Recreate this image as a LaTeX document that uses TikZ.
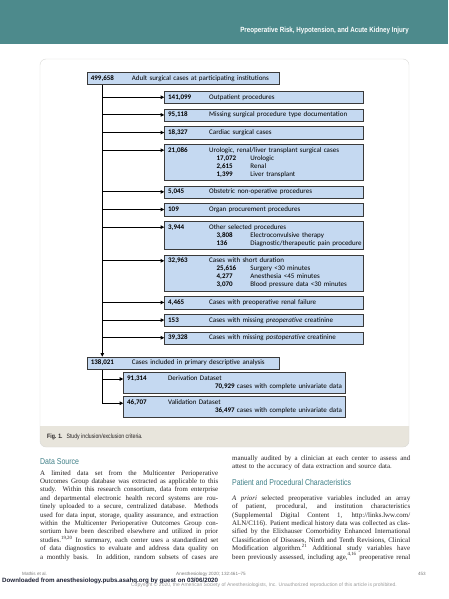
\documentclass[tikz,border=0pt]{standalone}
\usepackage{fontspec}
\setmainfont{Liberation Serif}
\newfontfamily\boxfont{Carlito}
\newfontfamily\condfont[FakeStretch=0.82]{Liberation Sans}
\newfontfamily\headfont[FakeStretch=0.83]{Liberation Sans}
\newfontfamily\footfont{Liberation Sans}
\usetikzlibrary{arrows.meta,positioning}
\definecolor{headTeal}{HTML}{4D8A8C}
\definecolor{secTeal}{HTML}{3F7F87}
\definecolor{boxBlue}{HTML}{C5D9F1}
\definecolor{boxLine}{HTML}{3A3A3A}
\definecolor{capGray}{HTML}{E8E5DC}
\definecolor{panelLine}{HTML}{D9D9D6}
\definecolor{bodyInk}{HTML}{231F20}
\definecolor{footGray}{HTML}{7A7A7A}
\definecolor{copyGray}{HTML}{9A9A9A}
\definecolor{dlNavy}{HTML}{1E2235}
\newlength\colw
\setlength\colw{178pt}
\newcommand\jl[1]{\leavevmode\hbox to\colw{\spaceskip=0pt\xspaceskip=0pt\relax #1}}
\newcommand\boxrow[2]{\strut\mbox{\makebox[41pt][l]{\bfseries #1}#2}}
\newcommand\subrow[2]{\\\strut\mbox{\hspace{48.5pt}\makebox[33.7pt][l]{\bfseries #1}#2}}

\begin{document}
\begin{tikzpicture}[x=1pt,y=-1pt,
  node distance=4.4pt,
  excl/.style={draw=boxLine,fill=boxBlue,line width=0.75pt,inner xsep=3.5pt,inner ysep=2.25pt,
               text width=191.4pt,align=left,minimum height=12.5pt,
               font=\boxfont\fontsize{7}{8}\selectfont},
  mainbox/.style={excl,text width=185pt},
  subset/.style={excl,text width=214.7pt},
  edge/.style={-{Triangle[length=3.6pt,width=3.4pt]},line width=0.9pt},
  body/.style={anchor=base west,inner sep=0pt,text width=\colw,align=left,text=bodyInk,
               font=\fontsize{6.9}{8.4}\selectfont},
  sechead/.style={anchor=west,inner sep=0pt,text=secTeal,font=\condfont\fontsize{8.5}{10}\selectfont},
  foot/.style={anchor=west,inner sep=0pt,text=footGray,font=\footfont\fontsize{4.6}{5}\selectfont}
]
  \useasboundingbox (0,0) rectangle (448,599);

  \fill[headTeal] (0,0) rectangle (448,44);
  \node[anchor=east,inner sep=0pt,text=white,font=\headfont\bfseries\fontsize{7.5}{8}\selectfont]
    (runhead) at (409,31) {Preoperative Risk, Hypotension, and Acute Kidney Injury};

  \fill[white,rounded corners=6pt] (40,59) rectangle (409,447);
  \fill[capGray] (40,426) [rounded corners=6pt] -- (40,447) -- (409,447) [sharp corners] -- (409,426) -- cycle;
  \draw[panelLine,rounded corners=6pt] (40,59) rectangle (409,447);

  \node[mainbox,anchor=north west] (total) at (87,72) {\boxrow{499,658}{Adult surgical cases at participating institutions}};

  \node[excl,anchor=north west] (outpt) at (164.3,91) {\boxrow{141,099}{Outpatient procedures}};
  \node[excl,below=of outpt] (nodoc) {\boxrow{95,118}{Missing surgical procedure type documentation}};
  \node[excl,below=of nodoc] (cardiac) {\boxrow{18,327}{Cardiac surgical cases}};
  \node[excl,below=of cardiac] (urol) {\boxrow{21,086}{Urologic, renal/liver transplant surgical cases}%
    \subrow{17,072}{Urologic}\subrow{2,615}{Renal}\subrow{1,399}{Liver transplant}};
  \node[excl,below=of urol] (obst) {\boxrow{5,045}{Obstetric non-operative procedures}};
  \node[excl,below=of obst] (organ) {\boxrow{109}{Organ procurement procedures}};
  \node[excl,below=of organ] (other) {\boxrow{3,944}{Other selected procedures}%
    \subrow{3,808}{Electroconvulsive therapy}\subrow{136}{Diagnostic/therapeutic pain procedure}};
  \node[excl,below=of other] (short) {\boxrow{32,963}{Cases with short duration}%
    \subrow{25,616}{Surgery <30 minutes}\subrow{4,277}{Anesthesia <45 minutes}\subrow{3,070}{Blood pressure data <30 minutes}};
  \node[excl,below=of short] (renal) {\boxrow{4,465}{Cases with preoperative renal failure}};
  \node[excl,below=of renal] (nopre) {\boxrow{153}{Cases with missing \textit{preoperative} creatinine}};
  \node[excl,below=of nopre] (nopost) {\boxrow{39,328}{Cases with missing \textit{postoperative} creatinine}};

  \node[mainbox,anchor=north west] (incl) at (87,356.7) {\boxrow{138,021}{Cases included in primary descriptive analysis}};
  \node[subset,anchor=north west] (deriv) at (123.3,372) {\boxrow{91,314}{Derivation Dataset}\\
    \strut\hfill\textbf{70,929} cases with complete univariate data\hspace*{6.5pt}};
  \node[subset,below=3pt of deriv] (valid) {\boxrow{46,707}{Validation Dataset}\\
    \strut\hfill\textbf{36,497} cases with complete univariate data\hspace*{6.5pt}};

  \coordinate (trunk) at ([xshift=15.3pt]total.south west);
  \draw[edge] (trunk) -- (trunk |- incl.north);
  \foreach \b in {outpt,nodoc,cardiac,urol,obst,organ,other,short,renal,nopre,nopost}{
    \path ([yshift=-6.25pt]\b.north west) coordinate (\b-in);
    \draw[edge] (trunk |- \b-in) -- (\b-in);
  }
  \path ([yshift=-7pt]deriv.north west) coordinate (deriv-in);
  \path ([yshift=-7pt]valid.north west) coordinate (valid-in);
  \draw[edge] (trunk |- incl.south) |- (valid-in);
  \draw[edge] (trunk |- deriv-in) -- (deriv-in);

  \node[anchor=west,inner sep=0pt,text=bodyInk,font=\condfont\fontsize{6.3}{7}\selectfont]
    (caption) at (47,436.5) {\textbf{Fig. 1.}\hspace{4pt}Study inclusion/exclusion criteria.};

  \node[sechead] (srchead) at (40,462) {Data Source};
  \node[body] (colA) at (40,475) {%
    \jl{A limited data set from the Multicenter Perioperative}\\
    \jl{Outcomes Group database was extracted as applicable to this}\\
    \jl{study. Within this research consortium, data from enterprise}\\
    \jl{and departmental electronic health record systems are rou-}\\
    \jl{tinely uploaded to a secure, centralized database. Methods}\\
    \jl{used for data input, storage, quality assurance, and extraction}\\
    \jl{within the Multicenter Perioperative Outcomes Group con-}\\
    \jl{sortium have been described elsewhere and utilized in prior}\\
    \jl{studies.\textsuperscript{19,20} In summary, each center uses a standardized set}\\
    \jl{of data diagnostics to evaluate and address data quality on}\\
    \jl{a monthly basis. In addition, random subsets of cases are}};

  \node[body] (colB) at (232,460) {%
    \jl{manually audited by a clinician at each center to assess and}\\
    attest to the accuracy of data extraction and source data.};
  \node[sechead] (pathead) at (232,482) {Patient and Procedural Characteristics};
  \node[body] (colC) at (232,500.2) {%
    \jl{\textit{A priori} selected preoperative variables included an array}\\
    \jl{of patient, procedural, and institution characteristics}\\
    \jl{(Supplemental Digital Content 1, http://links.lww.com/}\\
    \jl{ALN/C116). Patient medical history data was collected as clas-}\\
    \jl{sified by the Elixhauser Comorbidity Enhanced International}\\
    \jl{Classification of Diseases, Ninth and Tenth Revisions, Clinical}\\
    \jl{Modification algorithm.\textsuperscript{21} Additional study variables have}\\
    \jl{been previously assessed, including age,\textsuperscript{4,16} preoperative renal}};

  \node[foot] (authors) at (22,574) {Mathis et al.};
  \node[foot] (journal) at (176,574) {Anesthesiology 2020; 132:461–75};
  \node[foot,anchor=east] (pageno) at (426,574) {453};
  \node[anchor=east,inner sep=0pt,text=copyGray,font=\footfont\fontsize{5}{6}\selectfont]
    (copyr) at (397,585) {Copyright © 2020, the American Society of Anesthesiologists, Inc. Unauthorized reproduction of this article is prohibited.};
  \node[anchor=west,inner sep=0pt,text=dlNavy,font=\footfont\bfseries\fontsize{6.2}{7}\selectfont]
    (dl) at (2,581) {Downloaded from anesthesiology.pubs.asahq.org by guest on 03/06/2020};
\end{tikzpicture}
\end{document}
